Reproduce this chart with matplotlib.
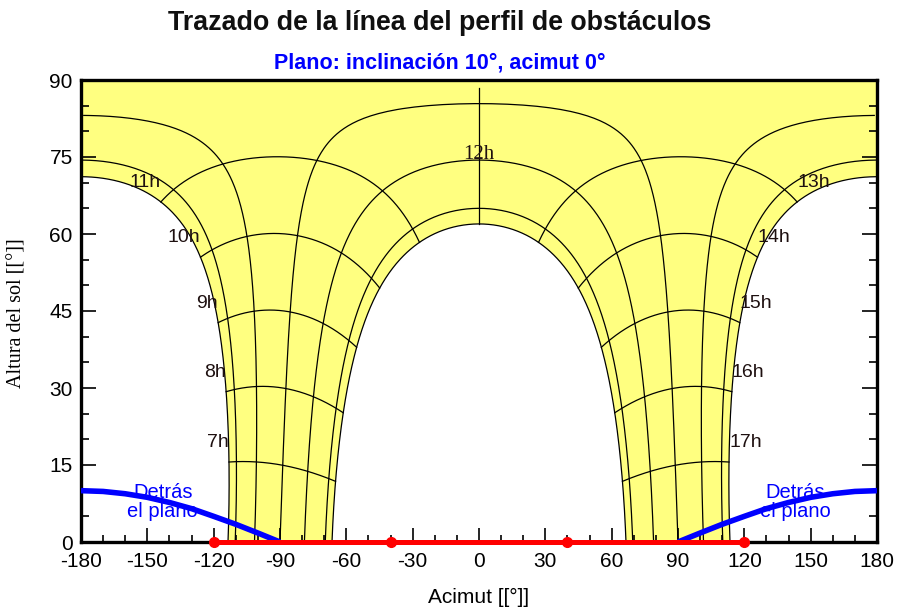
import numpy as np
import matplotlib
matplotlib.use("Agg")
import matplotlib.pyplot as plt

plt.rcParams['font.family'] = ['Liberation Sans', 'DejaVu Sans']
plt.rcParams['axes.unicode_minus'] = False

# site and sun path grid (solar time)
latitude = 4.6
declinations = [23.44, 20.2, 11.5, 0.0, -11.0, -20.4, -23.44]  # date curves, Jun 22 ... Dec 22
hours = [7, 8, 9, 10, 11, 12, 13, 14, 15, 16, 17]
noon_line_top_decl = 3.0  # 12h line stops a bit under the zenith

# "behind the plane" limit (tilt 10, azimuth 0)
behind_az = [-180, -170, -160, -150, -140, -130, -120, -110, -100, -90]
behind_alt = [10.0, 9.85, 9.4, 8.7, 7.7, 6.5, 5.0, 3.45, 1.75, 0.0]

# far shading horizon profile
horizon_az = [-120, -40, 40, 120]
horizon_alt = [0, 0, 0, 0]

x_ticks = list(range(-180, 181, 30))
y_ticks = list(range(0, 91, 15))


def sun_pos(H, dec, lat=latitude):
    H = np.radians(H)
    d = np.radians(dec)
    p = np.radians(lat)
    s = np.sin(p) * np.sin(d) + np.cos(p) * np.cos(d) * np.cos(H)
    alt = np.degrees(np.arcsin(np.clip(s, -1, 1)))
    az = np.degrees(np.arctan2(np.sin(H) * np.cos(d),
                               np.cos(H) * np.cos(d) * np.sin(p) - np.sin(d) * np.cos(p)))
    return az, alt


def day_curve(dec, n=600):
    H0 = np.degrees(np.arccos(-np.tan(np.radians(latitude)) * np.tan(np.radians(dec))))
    H = np.linspace(-H0, H0, n)
    az, alt = sun_pos(H, dec)
    # split where the path wraps through +-180
    jump = np.where(np.abs(np.diff(az)) > 180)[0]
    az = np.insert(az, jump + 1, np.nan)
    alt = np.insert(alt, jump + 1, np.nan)
    return az, alt


fig = plt.figure(figsize=(8.98, 6.08), dpi=100)
ax = fig.add_axes([81 / 898, 1 - 542 / 608, 796 / 898, 462 / 608])

# yellow band swept by the sun over the year
dj, dd = declinations[0], declinations[-1]
H0j = np.degrees(np.arccos(-np.tan(np.radians(latitude)) * np.tan(np.radians(dj))))
H0d = np.degrees(np.arccos(-np.tan(np.radians(latitude)) * np.tan(np.radians(dd))))
Ham = np.linspace(-H0j, 0, 300)
az_am, alt_am = sun_pos(Ham, dj)
az_am = np.where(az_am > 0, az_am - 360, az_am)
Hpm = np.linspace(0, H0j, 300)
az_pm, alt_pm = sun_pos(Hpm, dj)
az_pm = np.where(az_pm < 0, az_pm + 360, az_pm)
az_dec, alt_dec = sun_pos(np.linspace(H0d, -H0d, 600), dd)
poly_x = np.concatenate([az_am, [-180, 180], az_pm, az_dec])
poly_y = np.concatenate([alt_am, [90, 90], alt_pm, alt_dec])
ax.fill(poly_x, poly_y, color='#ffff80', zorder=1, lw=0)

# date curves
for dec in declinations:
    az, alt = day_curve(dec)
    ax.plot(az, alt, color='black', lw=0.9, zorder=2)

# hour lines
label_color = '#1e1010'
for h in hours:
    if h == 12:
        dec_range = np.linspace(declinations[-1], noon_line_top_decl, 200)
    else:
        dec_range = np.linspace(declinations[-1], declinations[0], 300)
    az, alt = sun_pos(np.full_like(dec_range, (h - 12) * 15.0), dec_range)
    ax.plot(az, alt, color='black', lw=0.9, zorder=2)
    if h == 12:
        azl, altl = sun_pos(0.0, declinations[4])
        ax.text(azl, altl + 0.3, '12h', ha='center', va='baseline', fontsize=15,
                family='Liberation Serif', color=label_color, zorder=4)
    else:
        ha = 'right' if h < 12 else 'left'
        ax.annotate(f'{h}h', (az[-1], alt[-1]), xytext=(0, 14), textcoords='offset points',
                    ha=ha, va='center', fontsize=14, color=label_color, zorder=4)

# behind the plane limit (both sides)
ax.plot(behind_az, behind_alt, color='#0000ff', lw=4, zorder=3, solid_capstyle='butt')
ax.plot([-a for a in behind_az], behind_alt, color='#0000ff', lw=4, zorder=3,
        solid_capstyle='butt')
for side in (-1, 1):
    ax.text(side * 143, 7.8, 'Detrás\nel plano', ha='center', va='center', fontsize=14.5,
            color='#0000ff', linespacing=0.95, zorder=4)

# horizon profile
ax.plot(horizon_az, horizon_alt, color='#ff0000', lw=3.6, marker='o', ms=7,
        zorder=5, clip_on=False)

ax.set_xlim(-180, 180)
ax.set_ylim(0, 90)
ax.set_xticks(x_ticks)
ax.set_yticks(y_ticks)
ax.set_xticks(range(-180, 181, 10), minor=True)
ax.set_yticks(range(0, 91, 5), minor=True)
ax.tick_params(axis='both', which='both', direction='in', labelsize=15, colors='black')
ax.tick_params(axis='y', which='major', length=11, width=1.2, right=True, pad=6)
ax.tick_params(axis='y', which='minor', length=5.5, width=1.2, right=True)
ax.tick_params(axis='x', which='major', length=10, width=1.2, top=False, pad=7)
ax.tick_params(axis='x', which='minor', length=5, width=1.2, top=False)
for sp in ax.spines.values():
    sp.set_linewidth(2.4)

fig.text(440 / 898, 1 - 30 / 608, 'Trazado de la línea del perfil de obstáculos',
         ha='center', va='baseline', fontsize=19.3, fontweight='bold', color='#101010')
fig.text(440 / 898, 1 - 68 / 608, 'Plano: inclinación 10°, acimut 0°',
         ha='center', va='baseline', fontsize=15.5, fontweight='bold', color='#0000ff')
fig.text(479 / 898, 1 - 603 / 608, 'Acimut [[°]]', ha='center', va='baseline', fontsize=15)
fig.text(17 / 898, 1 - 313 / 608, 'Altura del sol [[°]]', rotation=90, ha='center',
         va='center', fontsize=14.5, family='Liberation Serif')

fig.savefig('out.png', dpi=100)
